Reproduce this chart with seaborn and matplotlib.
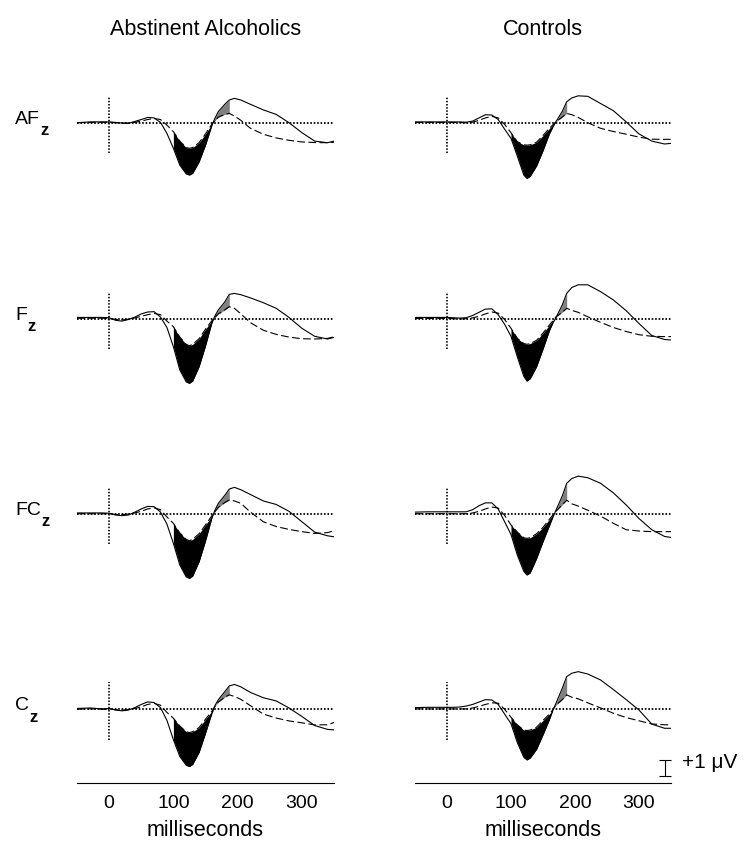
import numpy as np
import pandas as pd
import seaborn as sns
import matplotlib.pyplot as plt

# time axis (ms), shared by every waveform
ms = [-50, -30, -10, 0,
      10, 20, 30, 40, 50, 60, 70, 80, 90,
      100, 110, 120, 125, 130, 140, 150, 160, 165, 170, 180, 187, 195,
      205, 220, 240, 260, 280, 300, 320, 340, 350]

groups = ['Abstinent Alcoholics', 'Controls']
sites = ['AF', 'F', 'FC', 'C']

# amplitudes in microvolts
alc_af_solid = [0.0, 0.05, 0.05, 0.05,
                0.02, -0.02, -0.04, 0.08, 0.2, 0.33, 0.3, 0.02, -0.67,
                -1.6, -2.65, -3.2, -3.27, -3.17, -2.45, -1.4, -0.15, 0.3, 0.7, 1.15, 1.42, 1.52,
                1.42, 1.15, 0.8, 0.52, 0.0, -0.62, -1.15, -1.25, -1.15]
alc_af_dashed = [0.0, 0.02, 0.03, 0.03,
                 0.0, -0.03, -0.02, 0.02, 0.1, 0.2, 0.26, 0.2, -0.15,
                 -0.56, -1.15, -1.55, -1.6, -1.55, -1.25, -0.7, -0.08, 0.15, 0.35, 0.52, 0.58, 0.42,
                 0.15, -0.35, -0.72, -0.95, -1.1, -1.2, -1.24, -1.25, -1.22]
alc_f_solid = [0.08, 0.08, 0.08, 0.06,
               -0.1, -0.15, -0.05, 0.1, 0.3, 0.42, 0.44, 0.1, -0.55,
               -1.75, -3.2, -3.95, -4.04, -3.9, -3.0, -1.7, -0.25, 0.2, 0.55, 1.05, 1.52, 1.58,
               1.5, 1.3, 1.0, 0.65, 0.08, -0.6, -1.1, -1.27, -1.17]
alc_f_dashed = [0.03, 0.03, 0.03, 0.02,
                -0.05, -0.08, -0.03, 0.05, 0.15, 0.25, 0.33, 0.25, -0.15,
                -0.5, -1.15, -1.6, -1.69, -1.6, -1.25, -0.65, -0.12, 0.1, 0.3, 0.55, 0.75, 0.65,
                0.3, -0.25, -0.72, -0.98, -1.15, -1.25, -1.27, -1.23, -1.13]
alc_fc_solid = [0.05, 0.05, 0.05, 0.03,
                -0.08, -0.12, -0.08, 0.1, 0.3, 0.46, 0.44, 0.1, -0.65,
                -1.85, -3.2, -3.95, -4.04, -3.9, -3.0, -1.7, -0.25, 0.25, 0.65, 1.15, 1.54, 1.65,
                1.5, 1.2, 0.8, 0.58, 0.15, -0.5, -1.15, -1.38, -1.44]
alc_fc_dashed = [0.0, 0.0, 0.0, 0.0,
                 -0.05, -0.05, -0.02, 0.05, 0.15, 0.3, 0.37, 0.25, -0.2,
                 -0.6, -1.2, -1.6, -1.69, -1.6, -1.25, -0.7, -0.12, 0.15, 0.4, 0.7, 0.85, 0.8,
                 0.65, 0.1, -0.5, -0.8, -0.98, -1.12, -1.23, -1.18, -1.06]
alc_c_solid = [0.05, 0.08, 0.02, 0.05,
               -0.05, -0.1, -0.05, 0.1, 0.3, 0.46, 0.42, 0.1, -0.7,
               -1.9, -2.95, -3.5, -3.58, -3.45, -2.7, -1.5, -0.25, 0.25, 0.6, 1.1, 1.46, 1.55,
               1.4, 1.05, 0.72, 0.52, 0.08, -0.45, -1.02, -1.26, -1.29]
alc_c_dashed = [0.0, 0.03, 0.0, 0.02,
                -0.03, -0.05, -0.02, 0.05, 0.15, 0.3, 0.37, 0.25, -0.2,
                -0.56, -1.05, -1.4, -1.46, -1.4, -1.15, -0.62, -0.12, 0.2, 0.45, 0.75, 0.9, 0.8,
                0.62, 0.22, -0.3, -0.55, -0.73, -0.85, -0.98, -0.97, -0.83]

ctl_af_solid = [0.05, 0.05, 0.05, 0.05,
                0.05, 0.05, 0.03, 0.1, 0.3, 0.5, 0.48, 0.2, -0.4,
                -0.98, -2.1, -3.27, -3.48, -3.35, -2.7, -1.75, -0.7, -0.3, 0.05, 0.7, 1.31, 1.55,
                1.68, 1.65, 1.2, 0.75, 0.05, -0.7, -1.15, -1.33, -1.29]
ctl_af_dashed = [0.02, 0.02, 0.02, 0.02,
                 0.02, 0.02, 0.0, 0.03, 0.15, 0.3, 0.4, 0.3, -0.1,
                 -0.63, -1.19, -1.38, -1.4, -1.38, -1.22, -0.8, -0.35, -0.15, 0.05, 0.35, 0.58, 0.5,
                 0.33, 0.0, -0.35, -0.55, -0.72, -0.9, -1.03, -1.04, -1.04]
ctl_f_solid = [0.08, 0.08, 0.08, 0.08,
               0.06, 0.04, 0.06, 0.2, 0.4, 0.6, 0.62, 0.25, -0.35,
               -1.1, -2.4, -3.6, -3.9, -3.75, -3.0, -1.9, -0.75, -0.3, 0.05, 0.85, 1.58, 1.95,
               2.12, 2.12, 1.69, 1.17, 0.5, -0.3, -1.05, -1.3, -1.33]
ctl_f_dashed = [0.02, 0.02, 0.02, 0.02,
                0.0, -0.02, 0.0, 0.05, 0.15, 0.3, 0.42, 0.35, -0.05,
                -0.6, -1.23, -1.55, -1.6, -1.55, -1.35, -0.9, -0.4, -0.15, 0.1, 0.4, 0.65, 0.52,
                0.4, 0.12, -0.23, -0.55, -0.8, -1.0, -1.1, -1.12, -1.12]
ctl_fc_solid = [0.1, 0.12, 0.12, 0.12,
                0.12, 0.12, 0.12, 0.25, 0.5, 0.68, 0.68, 0.3, -0.5,
                -1.3, -2.6, -3.6, -3.83, -3.7, -2.8, -1.75, -0.75, -0.25, 0.2, 1.1, 1.9, 2.2,
                2.35, 2.25, 1.9, 1.3, 0.55, -0.3, -1.0, -1.42, -1.48]
ctl_fc_dashed = [0.0, 0.0, 0.0, 0.0,
                 0.0, 0.0, 0.0, 0.05, 0.15, 0.3, 0.42, 0.35, -0.1,
                 -0.7, -1.15, -1.5, -1.54, -1.5, -1.25, -0.85, -0.35, -0.1, 0.15, 0.55, 0.85, 0.62,
                 0.48, 0.22, -0.15, -0.6, -1.0, -1.08, -1.12, -1.12, -1.12]
ctl_c_solid = [0.1, 0.12, 0.12, 0.12,
               0.12, 0.14, 0.2, 0.3, 0.45, 0.6, 0.58, 0.3, -0.3,
               -0.9, -2.1, -3.0, -3.17, -3.05, -2.5, -1.6, -0.65, -0.1, 0.35, 1.3, 2.04, 2.25,
               2.35, 2.2, 1.83, 1.23, 0.6, -0.05, -0.93, -1.19, -1.19]
ctl_c_dashed = [0.02, 0.02, 0.02, 0.02,
                0.02, 0.02, 0.02, 0.08, 0.18, 0.3, 0.4, 0.38, 0.0,
                -0.5, -0.98, -1.3, -1.33, -1.3, -1.12, -0.7, -0.3, -0.05, 0.25, 0.6, 0.9, 0.75,
                0.65, 0.4, 0.08, -0.25, -0.52, -0.72, -0.92, -0.97, -0.98]

waves = {
    ('Abstinent Alcoholics', 'AF'): (alc_af_solid, alc_af_dashed),
    ('Abstinent Alcoholics', 'F'): (alc_f_solid, alc_f_dashed),
    ('Abstinent Alcoholics', 'FC'): (alc_fc_solid, alc_fc_dashed),
    ('Abstinent Alcoholics', 'C'): (alc_c_solid, alc_c_dashed),
    ('Controls', 'AF'): (ctl_af_solid, ctl_af_dashed),
    ('Controls', 'F'): (ctl_f_solid, ctl_f_dashed),
    ('Controls', 'FC'): (ctl_fc_solid, ctl_fc_dashed),
    ('Controls', 'C'): (ctl_c_solid, ctl_c_dashed),
}

# shaded windows (ms)
neg_window = (100, 165)
pos_window = (165, 187)

# layout: vertical offset of each site row (uV), in one axes per group
row_offsets = [0.0, -12.25, -24.44, -36.66]
ylim = (-41.27, 3.92)

sns.set_style('white')
plt.rcParams['font.family'] = ['Liberation Sans', 'DejaVu Sans']

fig = plt.figure(figsize=(7.44, 8.48), dpi=100)
axes = [fig.add_axes([77 / 744, 65 / 848, 257 / 744, 723 / 848]),
        fig.add_axes([415 / 744, 65 / 848, 256 / 744, 723 / 848])]

dot = (0, (0.9, 1.0))
dash = (0, (7, 3))
t = np.array(ms)

for ax, group in zip(axes, groups):
    for site, off in zip(sites, row_offsets):
        solid, dashed = waves[(group, site)]
        s = np.array(solid) + off
        d = np.array(dashed) + off

        ax.plot([-50, 350], [off, off], color='black', lw=1.3, ls=dot)
        ax.plot([0, 0], [off - 1.9, off + 1.7], color='black', lw=1.2, ls=dot)

        neg = (t >= neg_window[0]) & (t <= neg_window[1])
        pos = (t >= pos_window[0]) & (t <= pos_window[1])
        ax.fill_between(t, s, d, where=neg, color='black', lw=0)
        ax.fill_between(t, s, d, where=pos, color='#808080', lw=0)

        df = pd.DataFrame({'ms': t, 'solid': s, 'dashed': d})
        sns.lineplot(data=df, x='ms', y='solid', ax=ax, color='black', lw=0.8, sort=False)
        sns.lineplot(data=df, x='ms', y='dashed', ax=ax, color='black', lw=0.8,
                     linestyle=dash, sort=False)

    ax.set_xlim(-50, 350)
    ax.set_ylim(*ylim)
    for side in ['top', 'left', 'right']:
        ax.spines[side].set_visible(False)
    ax.spines['bottom'].set_color('black')
    ax.spines['bottom'].set_linewidth(0.8)
    ax.set_yticks([])
    ax.set_ylabel('')
    ax.set_xticks([0, 100, 200, 300])
    ax.tick_params(axis='x', direction='in', length=3, width=0.8, pad=8.5,
                   labelsize=14, colors='black')
    ax.set_xlabel('milliseconds', fontsize=15.5, labelpad=6, color='black')
    ax.text(0.5, 1 + 30 / 723, group, transform=ax.transAxes, ha='center',
            va='center', fontsize=15.5, color='black')

# site labels with subscript z
for site, off in zip(sites, row_offsets):
    y_px = 122.7 - off * 16 + 1
    lab = fig.text(15 / 744, 1 - y_px / 848, site, fontsize=14, va='baseline',
                   ha='left', color='black')
    fig.axes[0].annotate('z', xy=(1, 0), xycoords=lab, xytext=(0.5, -7.5),
                         textcoords='offset points', fontsize=12, va='bottom',
                         ha='left', color='black', fontweight='bold',
                         annotation_clip=False)

# scale bar: +1 uV
ax = axes[1]
ax.errorbar(341, row_offsets[3] - 3.67, yerr=0.5, fmt='none', ecolor='black',
            elinewidth=0.8, capsize=4, capthick=0.8, clip_on=False)
ax.text(367, row_offsets[3] - 3.35, '+1 \u03bcV', fontsize=15, va='center',
        ha='left', color='black', clip_on=False)

fig.savefig('out.png', dpi=100)
